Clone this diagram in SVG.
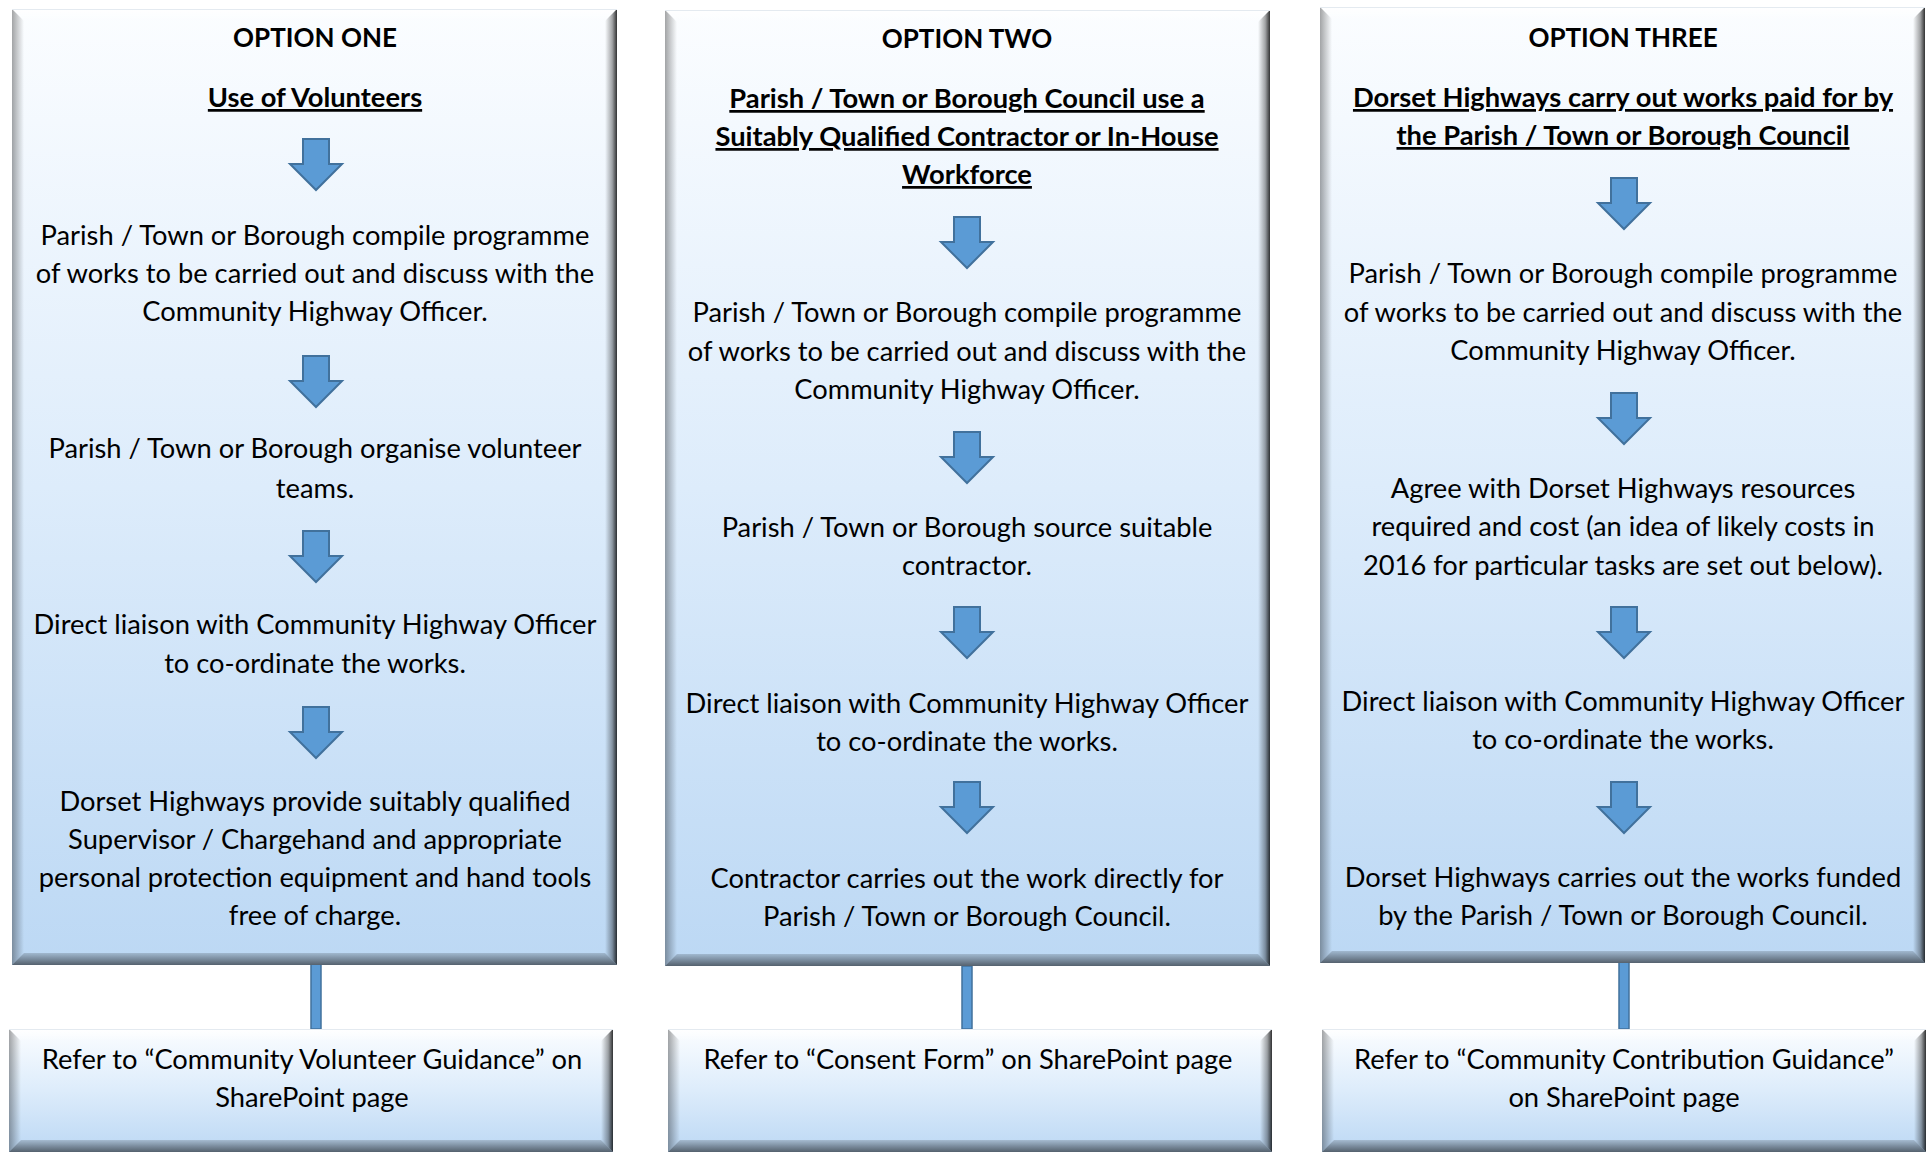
<svg xmlns="http://www.w3.org/2000/svg" xmlns:xlink="http://www.w3.org/1999/xlink" width="1926" height="1152" viewBox="0 0 1926 1152">
<style>
  text { font-family: Lato, "Liberation Sans", sans-serif; font-size: 27.3px; fill: #000; text-anchor: middle; }
  .hd { font-weight: bold; font-size: 26px; }
  .ul { font-weight: bold; text-decoration: underline; }
  .arrow { fill: #5B9BD5; stroke: #41719C; stroke-width: 2; }
  .conn { fill: #5B9BD5; stroke: #41719C; stroke-width: 1.5; }
</style>
<defs>
  <linearGradient id="face" x1="0" y1="0" x2="0" y2="1">
    <stop offset="0" stop-color="#FBFDFF"/>
    <stop offset="0.5" stop-color="#DDECFB"/>
    <stop offset="1" stop-color="#BCD8F4"/>
  </linearGradient>
  <linearGradient id="rightBev" x1="0" y1="0" x2="1" y2="0">
    <stop offset="0" stop-color="#000" stop-opacity="0"/>
    <stop offset="0.6" stop-color="#000" stop-opacity="0.35"/>
    <stop offset="1" stop-color="#000" stop-opacity="0.8"/>
  </linearGradient>
  <linearGradient id="leftBev" x1="1" y1="0" x2="0" y2="0">
    <stop offset="0" stop-color="#000" stop-opacity="0"/>
    <stop offset="1" stop-color="#000" stop-opacity="0.35"/>
  </linearGradient>
  <linearGradient id="botBev" x1="0" y1="0" x2="0" y2="1">
    <stop offset="0" stop-color="#000" stop-opacity="0.15"/>
    <stop offset="1" stop-color="#000" stop-opacity="0.55"/>
  </linearGradient>
  <linearGradient id="topBev" x1="0" y1="1" x2="0" y2="0">
    <stop offset="0" stop-color="#fff" stop-opacity="0"/>
    <stop offset="1" stop-color="#fff" stop-opacity="0.9"/>
  </linearGradient>
  <g id="panelShape">
    <rect x="0" y="0" width="605" height="956" fill="url(#face)"/>
    <polygon points="0,0 605,0 593,12 12,12" fill="url(#topBev)"/>
    <polygon points="0,0 12,12 12,944 0,956" fill="url(#leftBev)"/>
    <polygon points="605,0 605,956 593,944 593,12" fill="url(#rightBev)"/>
    <polygon points="0,956 605,956 593,944 12,944" fill="url(#botBev)"/>
    <line x1="0" y1="0.5" x2="605" y2="0.5" stroke="#E4EAF0" stroke-width="1"/>
  </g>
  <g id="boxShape">
    <rect x="0" y="0" width="604" height="123" fill="url(#face)"/>
    <polygon points="0,0 604,0 592,12 12,12" fill="url(#topBev)"/>
    <polygon points="0,0 12,12 12,111 0,123" fill="url(#leftBev)"/>
    <polygon points="604,0 604,123 592,111 592,12" fill="url(#rightBev)"/>
    <polygon points="0,123 604,123 592,111 12,111" fill="url(#botBev)"/>
    <line x1="0" y1="0.5" x2="604" y2="0.5" stroke="#E4EAF0" stroke-width="1"/>
  </g>
  <path id="arrow" class="arrow" d="M -13 0 H 13 V 25 H 26 L 0 51 L -26 25 H -13 Z"/>
</defs>

<g id="connectors">
  <rect class="conn" x="311" y="964" width="10" height="65"/>
  <rect class="conn" x="962" y="966" width="10" height="63"/>
  <rect class="conn" x="1619" y="962" width="10" height="67"/>
</g>

<g id="option-one">
  <use href="#panelShape" x="12" y="9"/>
  <text class="hd" x="315" y="47">OPTION ONE</text>
  <text class="ul" x="315" y="107">Use of Volunteers</text>
  <use href="#arrow" x="316" y="139"/>
  <text x="315" y="245">Parish / Town or Borough compile programme</text>
  <text x="315" y="283">of works to be carried out and discuss with the</text>
  <text x="315" y="321">Community Highway Officer.</text>
  <use href="#arrow" x="316" y="356"/>
  <text x="315" y="458">Parish / Town or Borough organise volunteer</text>
  <text x="315" y="498">teams.</text>
  <use href="#arrow" x="316" y="531"/>
  <text x="315" y="634">Direct liaison with Community Highway Officer</text>
  <text x="315" y="673">to co-ordinate the works.</text>
  <use href="#arrow" x="316" y="707"/>
  <text x="315" y="811">Dorset Highways provide suitably qualified</text>
  <text x="315" y="849">Supervisor / Chargehand and appropriate</text>
  <text x="315" y="887">personal protection equipment and hand tools</text>
  <text x="315" y="925">free of charge.</text>
</g>

<g id="option-two">
  <use href="#panelShape" x="665" y="10"/>
  <text class="hd" x="967" y="48">OPTION TWO</text>
  <text class="ul" x="967" y="108">Parish / Town or Borough Council use a</text>
  <text class="ul" x="967" y="146">Suitably Qualified Contractor or In-House</text>
  <text class="ul" x="967" y="184">Workforce</text>
  <use href="#arrow" x="967" y="217"/>
  <text x="967" y="322">Parish / Town or Borough compile programme</text>
  <text x="967" y="361">of works to be carried out and discuss with the</text>
  <text x="967" y="399">Community Highway Officer.</text>
  <use href="#arrow" x="967" y="432"/>
  <text x="967" y="537">Parish / Town or Borough source suitable</text>
  <text x="967" y="575">contractor.</text>
  <use href="#arrow" x="967" y="607"/>
  <text x="967" y="713">Direct liaison with Community Highway Officer</text>
  <text x="967" y="751">to co-ordinate the works.</text>
  <use href="#arrow" x="967" y="782"/>
  <text x="967" y="888">Contractor carries out the work directly for</text>
  <text x="967" y="926">Parish / Town or Borough Council.</text>
</g>

<g id="option-three">
  <use href="#panelShape" x="1320" y="7"/>
  <text class="hd" x="1623" y="47">OPTION THREE</text>
  <text class="ul" x="1623" y="107">Dorset Highways carry out works paid for by</text>
  <text class="ul" x="1623" y="145">the Parish / Town or Borough Council</text>
  <use href="#arrow" x="1624" y="178"/>
  <text x="1623" y="283">Parish / Town or Borough compile programme</text>
  <text x="1623" y="322">of works to be carried out and discuss with the</text>
  <text x="1623" y="360">Community Highway Officer.</text>
  <use href="#arrow" x="1624" y="393"/>
  <text x="1623" y="498">Agree with Dorset Highways resources</text>
  <text x="1623" y="536">required and cost (an idea of likely costs in</text>
  <text x="1623" y="575">2016 for particular tasks are set out below).</text>
  <use href="#arrow" x="1624" y="607"/>
  <text x="1623" y="711">Direct liaison with Community Highway Officer</text>
  <text x="1623" y="749">to co-ordinate the works.</text>
  <use href="#arrow" x="1624" y="782"/>
  <text x="1623" y="887">Dorset Highways carries out the works funded</text>
  <text x="1623" y="925">by the Parish / Town or Borough Council.</text>
</g>

<g id="ref-one">
  <use href="#boxShape" x="9" y="1029"/>
  <text x="312" y="1069">Refer to “Community Volunteer Guidance” on</text>
  <text x="312" y="1107">SharePoint page</text>
</g>
<g id="ref-two">
  <use href="#boxShape" x="668" y="1029"/>
  <text x="968" y="1069">Refer to “Consent Form” on SharePoint page</text>
</g>
<g id="ref-three">
  <use href="#boxShape" x="1322" y="1029"/>
  <text x="1624" y="1069">Refer to “Community Contribution Guidance”</text>
  <text x="1624" y="1107">on SharePoint page</text>
</g>
</svg>
